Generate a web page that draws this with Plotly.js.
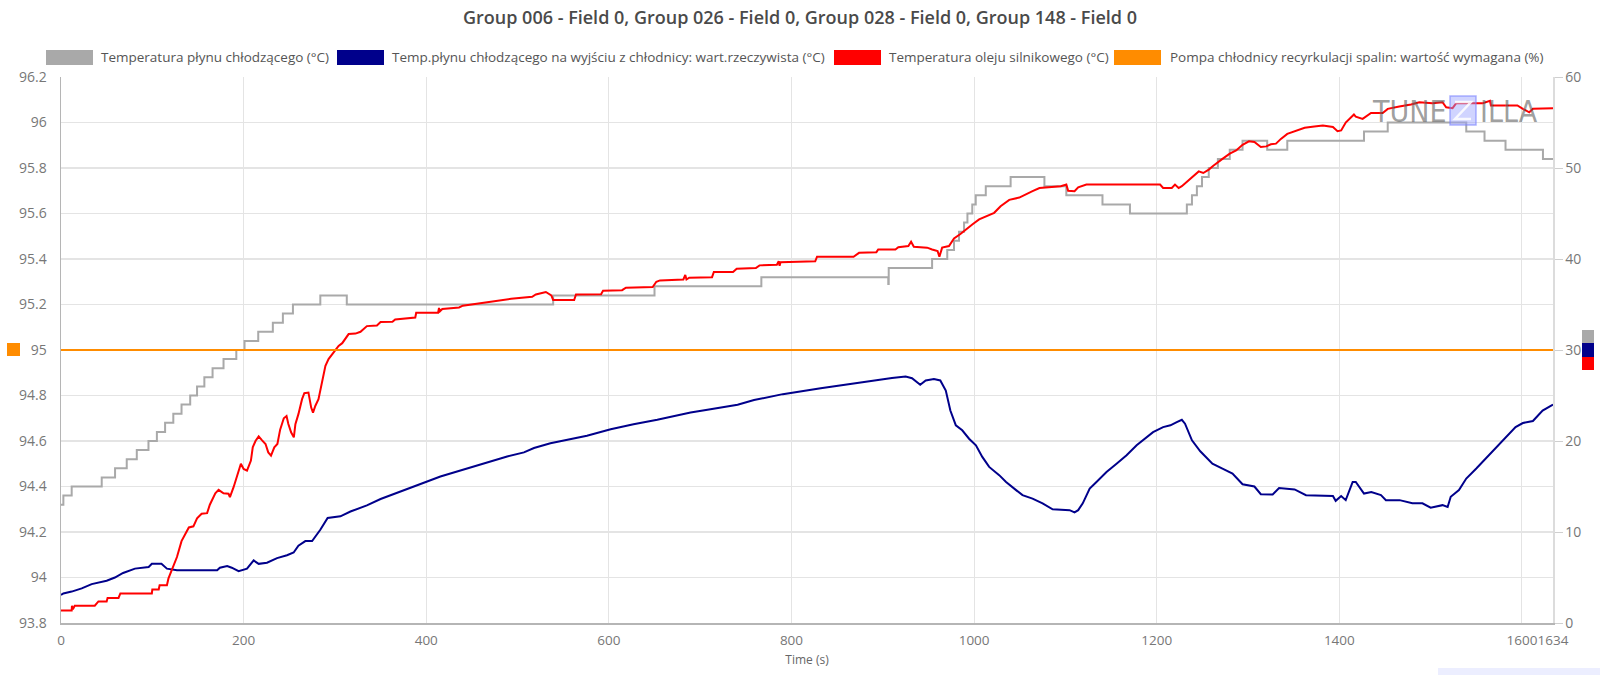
<!DOCTYPE html>
<html>
<head>
<meta charset="utf-8">
<script src="https://cdn.plot.ly/plotly-3.0.1.min.js"></script>
<style>html,body{margin:0;padding:0;background:#fff;}#chart{width:1600px;height:675px;}</style>
</head>
<body>
<div id="chart"></div>
<script>
// ---------- DATA ----------
const chartTitle = "Group 006 - Field 0, Group 026 - Field 0, Group 028 - Field 0, Group 148 - Field 0";
const seriesNames = [
  "Temperatura płynu chłodzącego (°C)",
  "Temp.płynu chłodzącego na wyjściu z chłodnicy: wart.rzeczywista (°C)",
  "Temperatura oleju silnikowego (°C)",
  "Pompa chłodnicy recyrkulacji spalin: wartość wymagana (%)"
];
const seriesColors = ["#a9a9a9", "#00008b", "#ff0000", "#ff8c00"];

const xTickVals = [0, 200, 400, 600, 800, 1000, 1200, 1400, 1600, 1634];
const xTickText = ["0", "200", "400", "600", "800", "1000", "1200", "1400", "1600", "1634"];
const yTickVals = [93.8, 94, 94.2, 94.4, 94.6, 94.8, 95, 95.2, 95.4, 95.6, 95.8, 96, 96.2];
const yTickText = ["93.8", "94", "94.2", "94.4", "94.6", "94.8", "95", "95.2", "95.4", "95.6", "95.8", "96", "96.2"];
const y2TickVals = [0, 10, 20, 30, 40, 50, 60];
const y2TickText = ["0", "10", "20", "30", "40", "50", "60"];

// Coolant temperature (step series, start time of each level)
const grayT = [0, 2.6, 11.7, 44.6, 59.2, 72, 83, 95.8, 105, 114, 123, 132, 141.5, 149, 157, 166, 178, 192, 201, 216, 232, 243, 254, 284, 313, 539, 650, 767, 906, 906.5, 954, 970.6, 978, 983.5, 989, 992.7, 998, 1001.8, 1012.8, 1040, 1077, 1101, 1140.6, 1170.7, 1233, 1238.6, 1244, 1249.6, 1257, 1267, 1280, 1294, 1321, 1343, 1427, 1453, 1539, 1559, 1582, 1623, 1634];
const grayV = [94.32, 94.36, 94.40, 94.44, 94.48, 94.52, 94.56, 94.60, 94.64, 94.68, 94.72, 94.76, 94.80, 94.84, 94.88, 94.92, 94.96, 95.00, 95.04, 95.08, 95.12, 95.16, 95.20, 95.24, 95.20, 95.24, 95.28, 95.32, 95.29, 95.36, 95.40, 95.44, 95.48, 95.52, 95.56, 95.60, 95.64, 95.68, 95.72, 95.76, 95.72, 95.68, 95.64, 95.60, 95.64, 95.68, 95.72, 95.76, 95.80, 95.84, 95.88, 95.92, 95.88, 95.92, 95.96, 96.00, 95.96, 95.92, 95.88, 95.84, 95.84];

// Radiator outlet coolant temperature
const blueT = [0, 2.6, 11.7, 22.7, 33.6, 50, 59, 68, 81, 90, 96, 99.5, 110, 116, 127, 171, 174, 182, 187, 194.5, 203.7, 211, 216.5, 225.6, 236.6, 247.5, 254.8, 260, 267.6, 275, 284, 292, 306, 317, 335, 350, 368, 386, 401, 415.5, 434, 452, 470, 488.6, 507, 518, 536, 554, 576, 602, 627, 653, 671, 689.5, 708, 726, 741, 759, 790.5, 832, 874, 899.5, 910, 925, 932, 941, 947, 956, 963, 969, 974, 980, 987, 994.5, 1002, 1009, 1016.5, 1027.5, 1035, 1046, 1053, 1064, 1075, 1086, 1104.6, 1110, 1114, 1119, 1126.6, 1134, 1145, 1156, 1167, 1178, 1189, 1196, 1207, 1215, 1222, 1227.5, 1231, 1238.6, 1247.7, 1261, 1272, 1283, 1294, 1307, 1314, 1327, 1334, 1351, 1363.5, 1393, 1396, 1402, 1407, 1414.6, 1418, 1427, 1435, 1445.6, 1451, 1466, 1480, 1491, 1500, 1513, 1518.6, 1522, 1531, 1539, 1550, 1564, 1579, 1593, 1601, 1612, 1622.6, 1634];
const blueV = [93.923, 93.93, 93.938, 93.952, 93.971, 93.986, 94.0, 94.02, 94.039, 94.043, 94.046, 94.06, 94.06, 94.039, 94.032, 94.032, 94.043, 94.05, 94.043, 94.028, 94.039, 94.075, 94.06, 94.065, 94.085, 94.098, 94.11, 94.14, 94.16, 94.16, 94.21, 94.262, 94.269, 94.29, 94.317, 94.345, 94.371, 94.4, 94.422, 94.444, 94.466, 94.488, 94.51, 94.532, 94.55, 94.569, 94.59, 94.605, 94.623, 94.652, 94.674, 94.693, 94.71, 94.725, 94.737, 94.749, 94.759, 94.78, 94.806, 94.832, 94.857, 94.872, 94.877, 94.883, 94.876, 94.847, 94.866, 94.872, 94.866, 94.822, 94.734, 94.669, 94.647, 94.61, 94.581, 94.53, 94.486, 94.45, 94.42, 94.384, 94.362, 94.347, 94.326, 94.3, 94.296, 94.286, 94.296, 94.326, 94.391, 94.42, 94.464, 94.5, 94.537, 94.581, 94.615, 94.639, 94.661, 94.669, 94.683, 94.693, 94.676, 94.603, 94.555, 94.5, 94.479, 94.457, 94.41, 94.4, 94.366, 94.365, 94.393, 94.387, 94.362, 94.358, 94.337, 94.358, 94.34, 94.42, 94.42, 94.369, 94.376, 94.362, 94.34, 94.34, 94.326, 94.326, 94.307, 94.318, 94.31, 94.355, 94.384, 94.435, 94.479, 94.537, 94.603, 94.661, 94.679, 94.688, 94.734, 94.76];

// Engine oil temperature
const redT = [0, 11.7, 12, 13, 15, 37, 41, 50, 51, 63, 65, 99.5, 100, 107, 108, 116, 117.7, 127, 132, 140, 145, 149, 154, 160, 163, 169, 172.6, 178, 183.5, 185, 189, 193.4, 197, 200, 203.7, 208, 210, 213, 216.5, 220, 224, 227, 230, 233.6, 237, 240, 244, 247, 249, 252, 255, 256.7, 260, 264, 266.5, 271, 274, 276, 278.6, 282, 286, 289.6, 293, 297, 300.5, 304, 308, 311.5, 315, 322.5, 328, 335, 346, 350, 363, 366, 388, 389, 413, 414, 415, 417.6, 436, 440, 455, 484.6, 493, 516, 520, 531, 537, 539, 562, 564, 591.5, 593.6, 614.5, 618.7, 648, 652, 656, 681.6, 683.7, 685, 688, 713, 715, 736, 740, 761, 765, 784, 786, 787, 788, 826, 828, 868, 874, 893, 895, 913.8, 917, 928, 931, 934, 948.6, 954, 960, 962, 965, 972.5, 978, 985, 991, 998, 1005.5, 1013, 1022, 1029, 1038.5, 1049.5, 1057, 1064, 1071.6, 1095, 1101, 1103, 1110, 1114, 1123, 1203.7, 1207, 1216.5, 1220, 1224, 1227.5, 1233, 1238.6, 1246, 1251, 1257, 1262, 1267, 1272, 1280, 1287, 1294, 1301, 1307, 1314, 1320, 1325, 1330.6, 1336, 1343, 1351, 1362, 1372.6, 1382, 1393, 1398, 1402, 1407, 1416, 1418, 1425.5, 1434.7, 1447.5, 1453, 1465.7, 1478.5, 1487.6, 1502, 1513, 1517, 1524, 1528, 1557, 1565, 1566, 1575, 1595, 1601, 1608, 1612, 1634];
const redV = [93.855, 93.855, 93.876, 93.86, 93.876, 93.876, 93.895, 93.895, 93.91, 93.91, 93.93, 93.93, 93.947, 93.947, 93.966, 93.966, 93.996, 94.09, 94.16, 94.22, 94.225, 94.26, 94.28, 94.283, 94.32, 94.37, 94.385, 94.37, 94.368, 94.353, 94.397, 94.46, 94.50, 94.477, 94.47, 94.514, 94.572, 94.60, 94.62, 94.604, 94.587, 94.55, 94.536, 94.572, 94.587, 94.65, 94.70, 94.71, 94.675, 94.638, 94.616, 94.674, 94.718, 94.784, 94.81, 94.813, 94.747, 94.725, 94.755, 94.784, 94.87, 94.93, 94.96, 94.98, 94.996, 95.018, 95.03, 95.05, 95.07, 95.072, 95.08, 95.105, 95.108, 95.123, 95.124, 95.134, 95.143, 95.164, 95.164, 95.185, 95.17, 95.18, 95.187, 95.195, 95.204, 95.22, 95.225, 95.234, 95.244, 95.255, 95.24, 95.22, 95.22, 95.244, 95.245, 95.26, 95.263, 95.274, 95.277, 95.3, 95.306, 95.31, 95.33, 95.31, 95.318, 95.32, 95.343, 95.343, 95.357, 95.36, 95.372, 95.375, 95.39, 95.37, 95.386, 95.39, 95.41, 95.41, 95.427, 95.43, 95.442, 95.442, 95.452, 95.457, 95.476, 95.454, 95.45, 95.442, 95.435, 95.41, 95.45, 95.457, 95.49, 95.51, 95.53, 95.552, 95.574, 95.588, 95.603, 95.632, 95.66, 95.67, 95.683, 95.698, 95.712, 95.72, 95.727, 95.70, 95.698, 95.715, 95.727, 95.727, 95.712, 95.712, 95.727, 95.712, 95.72, 95.74, 95.756, 95.785, 95.778, 95.793, 95.81, 95.826, 95.84, 95.863, 95.877, 95.902, 95.917, 95.914, 95.892, 95.895, 95.904, 95.907, 95.928, 95.95, 95.962, 95.977, 95.982, 95.987, 95.98, 95.962, 95.965, 96.0, 96.035, 96.026, 96.016, 96.042, 96.042, 96.06, 96.07, 96.079, 96.089, 96.085, 96.089, 96.067, 96.063, 96.085, 96.085, 96.095, 96.075, 96.075, 96.075, 96.06, 96.045, 96.06, 96.063];

// EGR cooler pump demand (%)
const orangeT = [0, 1634];
const orangeV = [30, 30];

// ---------- LAYOUT HELPERS ----------
const W = 1600, H = 675;
const M = {l: 61, r: 47, t: 77, b: 52};
const PW = W - M.l - M.r, PH = H - M.t - M.b;
const px = x => (x - M.l) / PW;            // pixel -> paper x
const py = y => (H - M.b - y) / PH;         // pixel -> paper y

const FONT = "Open Sans, Noto Sans, sans-serif";

const traces = [
  {x: grayT, y: grayV, name: seriesNames[0], type: "scatter", mode: "lines", line: {color: seriesColors[0], width: 2, shape: "hv"}, yaxis: "y"},
  {x: blueT, y: blueV, name: seriesNames[1], type: "scatter", mode: "lines", line: {color: seriesColors[1], width: 2}, yaxis: "y"},
  {x: redT, y: redV, name: seriesNames[2], type: "scatter", mode: "lines", line: {color: seriesColors[2], width: 2}, yaxis: "y"},
  {x: orangeT, y: orangeV, name: seriesNames[3], type: "scatter", mode: "lines", line: {color: seriesColors[3], width: 2}, yaxis: "y2"}
];

// custom legend (rectangles + labels)
const legendRectX = [46, 337, 834, 1114];
const legendTextX = [99, 390, 887, 1168];
const shapes = [];
const annotations = [];
for (let i = 0; i < 4; i++) {
  shapes.push({type: "rect", xref: "paper", yref: "paper", x0: px(legendRectX[i]), x1: px(legendRectX[i] + 47), y0: py(65), y1: py(50), fillcolor: seriesColors[i], line: {width: 0}, layer: "above"});
  annotations.push({xref: "paper", yref: "paper", x: px(legendTextX[i]), y: py(57.5), xanchor: "left", yanchor: "middle", text: seriesNames[i], showarrow: false, font: {family: FONT, size: 13.5, color: "#555"}});
}
// axis markers
shapes.push({type: "rect", xref: "paper", yref: "paper", x0: px(7), x1: px(20), y0: py(356), y1: py(343), fillcolor: seriesColors[3], line: {width: 0}});
shapes.push({type: "rect", xref: "paper", yref: "paper", x0: px(1582), x1: px(1594), y0: py(343), y1: py(330), fillcolor: seriesColors[0], line: {width: 0}});
shapes.push({type: "rect", xref: "paper", yref: "paper", x0: px(1582), x1: px(1594), y0: py(357), y1: py(343), fillcolor: seriesColors[1], line: {width: 0}});
shapes.push({type: "rect", xref: "paper", yref: "paper", x0: px(1582), x1: px(1594), y0: py(370), y1: py(357), fillcolor: seriesColors[2], line: {width: 0}});
// watermark: "TUNE" [Z icon] "ILLA"
shapes.push({type: "rect", xref: "paper", yref: "paper", x0: px(1450), x1: px(1476), y0: py(125), y1: py(96), fillcolor: "rgba(150,160,255,0.45)", line: {width: 1.5, color: "rgba(120,130,255,0.6)"}, layer: "above"});
shapes.push({type: "path", xref: "paper", yref: "paper",
  path: "M" + px(1455) + "," + py(102) + " L" + px(1471) + "," + py(102) + " L" + px(1455) + "," + py(119) + " L" + px(1471) + "," + py(119),
  line: {width: 2.5, color: "rgba(255,255,255,0.85)"}, layer: "above"});
const wmFont = {family: "DejaVu Sans Condensed, Liberation Sans Narrow, sans-serif", size: 30, color: "rgba(95,95,95,0.62)"};
annotations.push({xref: "paper", yref: "paper", x: px(1447), y: py(111), xanchor: "right", yanchor: "middle", borderpad: 0, text: "TUNE", showarrow: false, font: wmFont});
annotations.push({xref: "paper", yref: "paper", x: px(1479), y: py(111), xanchor: "left", yanchor: "middle", borderpad: 0, text: "ILLA", showarrow: false, font: wmFont});
// bottom-right UI element
shapes.push({type: "rect", xref: "paper", yref: "paper", x0: px(1438), x1: px(1610), y0: py(680), y1: py(668), fillcolor: "#eceeff", line: {width: 0}});

const layout = {
  width: W, height: H,
  margin: M,
  paper_bgcolor: "#fff", plot_bgcolor: "#fff",
  showlegend: false,
  title: {text: chartTitle, x: 0.5, xref: "container", y: 1 - 18 / H, yref: "container", yanchor: "middle",
          font: {family: FONT, size: 18, weight: 600, color: "#4a4a4a"}},
  xaxis: {
    range: [0, 1634], tickmode: "array", tickvals: xTickVals, ticktext: xTickText, tickangle: 0,
    showgrid: true, gridcolor: "#e4e4e4", gridwidth: 1, zeroline: false,
    showline: true, linecolor: "#b5b5b5", linewidth: 1.5,
    ticks: "outside", ticklen: 4, tickcolor: "rgba(0,0,0,0)",
    tickfont: {family: FONT, size: 13.5, color: "#777"},
    title: {text: "Time (s)", standoff: 8, font: {family: FONT, size: 12, color: "#666"}}
  },
  yaxis: {
    range: [93.8, 96.2], tickmode: "array", tickvals: yTickVals, ticktext: yTickText,
    showgrid: true, gridcolor: "#e4e4e4", gridwidth: 1.5, zeroline: false,
    showline: true, linecolor: "#b5b5b5", linewidth: 1.5,
    ticks: "outside", ticklen: 10, tickcolor: "rgba(0,0,0,0)",
    tickfont: {family: FONT, size: 14, color: "#777"}
  },
  yaxis2: {
    range: [0, 60], overlaying: "y", side: "right", tickmode: "array", tickvals: y2TickVals, ticktext: y2TickText,
    showgrid: false, zeroline: false, showline: true, linecolor: "#dcdcdc", linewidth: 1.5,
    ticks: "outside", ticklen: 8, tickcolor: "#cfcfcf",
    tickfont: {family: FONT, size: 14, color: "#777"}
  },
  shapes: shapes,
  annotations: annotations
};

Plotly.newPlot("chart", traces, layout, {staticPlot: true, displayModeBar: false});
</script>
</body>
</html>
